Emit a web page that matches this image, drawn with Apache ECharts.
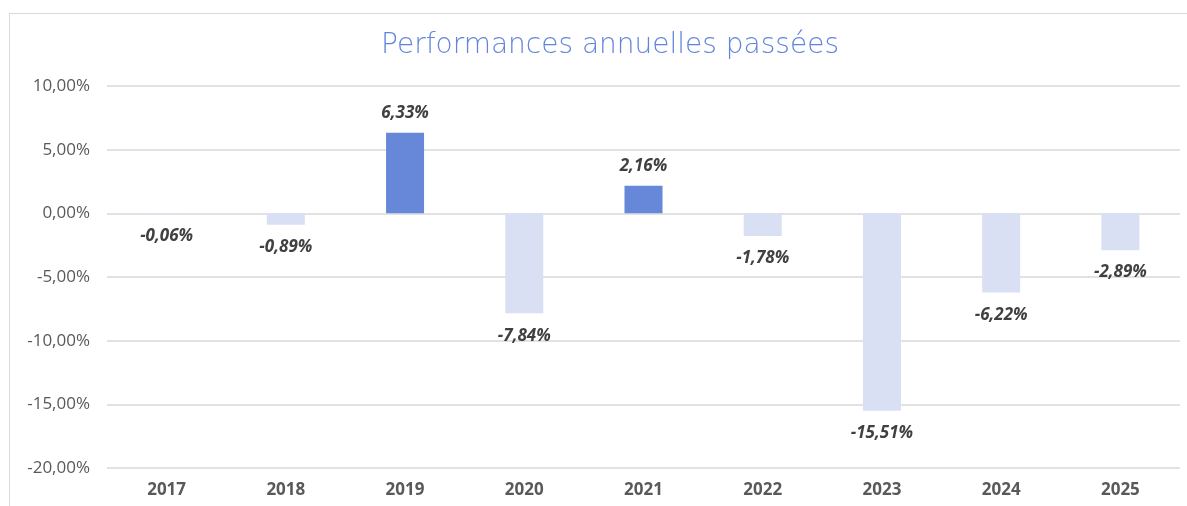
<!DOCTYPE html>
<html>
<head>
<meta charset="utf-8">
<script src="https://cdn.jsdelivr.net/npm/echarts@6/dist/echarts.min.js"></script>
<style>
  html, body { margin: 0; padding: 0; background: #fff; overflow: hidden; }
  #frame { position: absolute; left: 9px; top: 13px; width: 1300px; height: 600px; border: 1px solid #d9d9d9; }
  #main { position: absolute; left: 0; top: 0; width: 1187px; height: 506px; }
</style>
</head>
<body>
<div id="frame"></div>
<div id="main"></div>
<script>
// Chart data
const years = ["2017", "2018", "2019", "2020", "2021", "2022", "2023", "2024", "2025"];
const perf = [-0.06, -0.89, 6.33, -7.84, 2.16, -1.78, -15.51, -6.22, -2.89];
const yTicks = [-20, -15, -10, -5, 0, 5, 10];

const fmt = (v, d) => v.toFixed(d).replace(".", ",") + "%";

var myChart = echarts.init(document.getElementById("main"));

// positive years dark blue above the bar, negative ones pale below
let bars = perf.map((v) => ({
  value: v,
  itemStyle: { color: v >= 0 ? "#6787d8" : "#d9e0f4" },
  label: { position: v >= 0 ? "top" : "bottom", distance: v >= 0 ? 11 : 14 },
}));

var option = {
  animation: false,
  title: {
    text: "Performances annuelles passées",
    left: 605,
    top: 27,
    textAlign: "center",
    textStyle: {
      color: "#6285dc",
      fontFamily: "DejaVu Sans",
      fontWeight: 200,
      fontSize: 28,
    },
  },
  grid: {
    left: 107,
    right: 7,
    top: 86,
    bottom: 38,
  },
  xAxis: {
    type: "category",
    data: years,
    axisTick: { show: false },
    axisLine: { show: false },
    axisLabel: {
      margin: 14,
      color: "#595959",
      fontFamily: "Open Sans",
      fontWeight: "bold",
      fontSize: 17,
    },
  },
  yAxis: {
    type: "value",
    min: yTicks[0],
    max: yTicks[yTicks.length - 1],
    interval: 5,
    axisLine: { show: false },
    axisTick: { show: false },
    splitLine: { lineStyle: { color: "#d9d9d9", width: 1.5 } },
    axisLabel: {
      margin: 17,
      color: "#595959",
      fontFamily: "Open Sans",
      fontSize: 17,
      formatter: (v) => fmt(v, 2),
    },
  },
  series: [
    {
      name: "perf",
      type: "bar",
      data: bars,
      barWidth: 38,
      label: {
        show: true,
        color: "#404040",
        fontFamily: "Open Sans",
        fontWeight: "bold",
        fontStyle: "italic",
        fontSize: 17,
        formatter: (p) => fmt(p.value, 2),
      },
    },
  ],
};

myChart.setOption(option);
</script>
</body>
</html>
